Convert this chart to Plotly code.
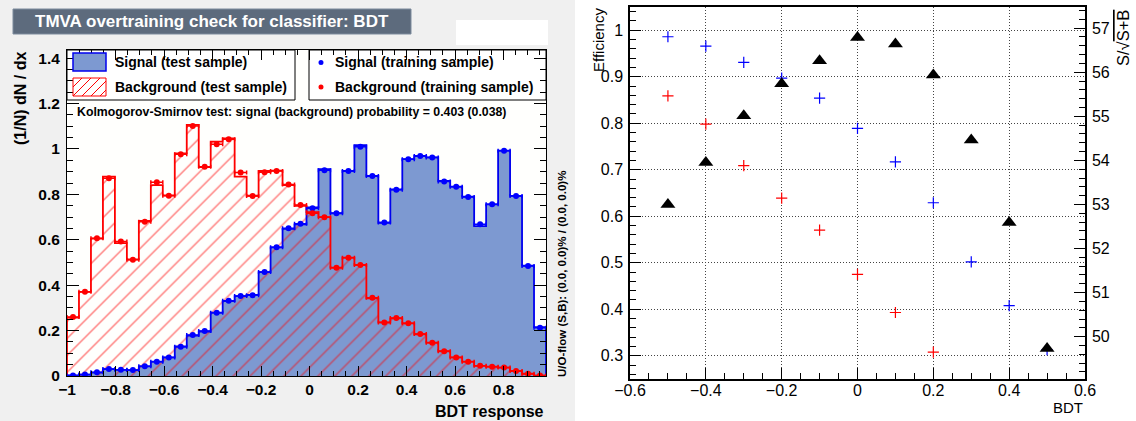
import numpy as np
import plotly.graph_objects as go

W, H = 1136, 421

# ---------------- data: TMVA overtraining check (40 bins) ----------------
bdt_min, bdt_max, n_bins = -1.0, 0.975, 40

signal_test = [0.003, 0.006, 0.015, 0.030, 0.027, 0.026, 0.042, 0.063, 0.082, 0.130,
               0.178, 0.196, 0.279, 0.330, 0.352, 0.357, 0.458, 0.567, 0.648, 0.668,
               0.743, 0.911, 0.717, 0.903, 1.017, 0.881, 0.675, 0.822, 0.955, 0.969,
               0.963, 0.859, 0.834, 0.790, 0.660, 0.756, 0.993, 0.793, 0.486, 0.215]
signal_train = [0.002, 0.007, 0.016, 0.031, 0.027, 0.026, 0.043, 0.063, 0.082, 0.129,
                0.181, 0.198, 0.279, 0.332, 0.352, 0.356, 0.458, 0.567, 0.651, 0.671,
                0.739, 0.906, 0.717, 0.903, 1.010, 0.881, 0.676, 0.820, 0.955, 0.969,
                0.962, 0.857, 0.834, 0.788, 0.668, 0.756, 0.992, 0.793, 0.485, 0.213]
background_test = [0.257, 0.371, 0.605, 0.878, 0.585, 0.514, 0.683, 0.841, 0.796, 0.981,
                   1.106, 0.920, 1.032, 1.047, 0.878, 0.794, 0.903, 0.905, 0.841, 0.750,
                   0.722, 0.700, 0.477, 0.521, 0.489, 0.342, 0.236, 0.254, 0.232, 0.184,
                   0.147, 0.109, 0.082, 0.063, 0.045, 0.041, 0.037, 0.022, 0.010, 0.002]
background_train = [0.260, 0.371, 0.607, 0.871, 0.592, 0.512, 0.679, 0.853, 0.794, 0.977,
                    1.101, 0.922, 1.021, 1.043, 0.896, 0.793, 0.897, 0.903, 0.844, 0.753,
                    0.717, 0.699, 0.477, 0.521, 0.489, 0.345, 0.236, 0.256, 0.232, 0.185,
                    0.147, 0.109, 0.082, 0.063, 0.045, 0.041, 0.037, 0.022, 0.010, 0.002]

# ---------------- data: cut efficiencies ----------------
cut_values = [-0.5, -0.4, -0.3, -0.2, -0.1, 0.0, 0.1, 0.2, 0.3, 0.4, 0.5]
signal_eff = [0.986, 0.966, 0.931, 0.897, 0.854, 0.789, 0.717, 0.629, 0.502, 0.408, 0.313]
background_eff = [0.859, 0.798, 0.709, 0.639, 0.570, 0.475, 0.393, 0.308, None, None, None]
significance = [53.00, 53.95, 55.01, 55.74, 56.26, 56.79, 56.64, 55.94, 54.46, 52.59, 49.73]

title_text = "TMVA overtraining check for classifier: BDT"
ks_text = "Kolmogorov-Smirnov test: signal (background) probability = 0.403 (0.038)"
uo_text = "U/O-flow (S,B): (0.0, 0.0)% / (0.0, 0.0)%"

# ---------------- helpers ----------------
def fx(x):
    return x / W

def fy(y):
    return 1 - y / H

FONT = "Liberation Sans"
C_SIG_FILL = "#7d99d1"
C_SIG_LINE = "#0000ee"
C_BKG = "#ff0000"

edges = np.linspace(bdt_min, bdt_max, n_bins + 1)
centers = 0.5 * (edges[:-1] + edges[1:])
binw = edges[1] - edges[0]

def step_xy(vals):
    xs = [edges[0]] + list(edges[:-1]) + [edges[-1], edges[-1]]
    ys = [0] + list(vals) + [vals[-1], 0]
    return xs, ys

fig = go.Figure()

fig.add_trace(go.Bar(x=centers, y=signal_test, width=binw, xaxis="x", yaxis="y",
                     marker=dict(color=C_SIG_FILL, line=dict(width=0)), showlegend=False))
fig.add_trace(go.Bar(x=centers, y=background_test, width=binw, xaxis="x", yaxis="y",
                     marker=dict(color="rgba(0,0,0,0)", line=dict(width=0),
                                 pattern=dict(shape="/", fgcolor=C_BKG, size=12,
                                              solidity=0.12, fillmode="overlay")),
                     showlegend=False))
sx, sy = step_xy(signal_test)
fig.add_trace(go.Scatter(x=sx, y=sy, mode="lines", line=dict(color=C_SIG_LINE, width=1.8, shape="hv"),
                         xaxis="x", yaxis="y", showlegend=False))
bx, by = step_xy(background_test)
fig.add_trace(go.Scatter(x=bx, y=by, mode="lines", line=dict(color=C_BKG, width=1.8, shape="hv"),
                         xaxis="x", yaxis="y", showlegend=False))
fig.add_trace(go.Scatter(x=centers, y=signal_train, mode="markers", xaxis="x", yaxis="y",
                         marker=dict(color="#0000ff", size=6),
                         error_x=dict(type="constant", value=binw / 2, width=2, thickness=1.5, color="#0000ff"),
                         showlegend=False))
fig.add_trace(go.Scatter(x=centers, y=background_train, mode="markers", xaxis="x", yaxis="y",
                         marker=dict(color=C_BKG, size=6),
                         error_x=dict(type="constant", value=binw / 2, width=2, thickness=1.5, color=C_BKG),
                         showlegend=False))

fig.add_trace(go.Scatter(x=cut_values, y=signal_eff, mode="markers", xaxis="x2", yaxis="y2",
                         marker=dict(symbol="cross-thin", size=8, line=dict(color="#0000ff", width=1.2)),
                         showlegend=False))
fig.add_trace(go.Scatter(x=cut_values, y=background_eff, mode="markers", xaxis="x2", yaxis="y2",
                         marker=dict(symbol="cross-thin", size=8, line=dict(color=C_BKG, width=1.2)),
                         showlegend=False))
fig.add_trace(go.Scatter(x=cut_values, y=significance, mode="markers", xaxis="x2", yaxis="y3",
                         marker=dict(symbol="triangle-up", size=13, color="black"),
                         showlegend=False))

left_tick_font = dict(family=FONT, size=15.5, color="black", weight="bold")
right_tick_font = dict(family=FONT, size=16, color="black")

common_left = dict(showline=True, linecolor="black", linewidth=1, mirror="allticks",
                   ticks="inside", tickcolor="black", tickwidth=1, showgrid=False,
                   zeroline=False, tickfont=left_tick_font, automargin=False)

grid_style = dict(showgrid=True, gridcolor="#444444", gridwidth=1, griddash="1px,2px")

fig.update_layout(
    width=W, height=H, margin=dict(l=0, r=0, t=0, b=0, pad=0, autoexpand=False),
    paper_bgcolor="white", plot_bgcolor="rgba(0,0,0,0)",
    barmode="overlay", bargap=0, showlegend=False,
    font=dict(family=FONT),
    xaxis=dict(domain=[fx(67), fx(546)], range=[bdt_min, bdt_max], anchor="y",
               tick0=-1, dtick=0.2, ticklen=10, ticklabelstandoff=-1,
               minor=dict(dtick=0.05, ticklen=5, ticks="inside", tickcolor="black", showgrid=False),
               **common_left),
    yaxis=dict(domain=[fy(376), fy(50)], range=[0, 1.436], anchor="x",
               tick0=0, dtick=0.2, ticklen=12, ticklabelstandoff=3,
               minor=dict(dtick=0.05, ticklen=6, ticks="inside", tickcolor="black", showgrid=False),
               **common_left),
    xaxis2=dict(domain=[fx(630), fx(1085)], range=[-0.6, 0.6], anchor="y2",
                tick0=-0.6, dtick=0.2, ticks="inside", ticklen=11, tickcolor="black",
                showline=True, linecolor="black", linewidth=1.5, mirror=True, zeroline=False,
                tickfont=right_tick_font, ticklabelstandoff=-4, automargin=False,
                minor=dict(dtick=0.05, ticklen=6, ticks="inside", tickcolor="black", showgrid=False),
                **grid_style),
    yaxis2=dict(domain=[fy(379), fy(7)], range=[0.25, 1.05], anchor="x2",
                tick0=0.3, dtick=0.1, ticks="inside", ticklen=11, tickcolor="black",
                showline=True, linecolor="black", linewidth=1.5, mirror=True, zeroline=False,
                tickfont=right_tick_font, ticklabelstandoff=2, automargin=False,
                minor=dict(dtick=0.02, tick0=0.3, ticklen=6, ticks="inside", tickcolor="black", showgrid=False),
                **grid_style),
    yaxis3=dict(overlaying="y2", side="right", anchor="x2", range=[49.04, 57.48],
                tick0=50, dtick=1, ticks="inside", ticklen=11, tickcolor="black",
                showline=True, linecolor="black", linewidth=1.5, showgrid=False, zeroline=False,
                tickfont=right_tick_font, ticklabelstandoff=2, automargin=False,
                minor=dict(dtick=0.2, ticklen=6, ticks="inside", tickcolor="black", showgrid=False)),
)

shapes = []
def rect(x0, y0, x1, y1, fill, line_color=None, line_width=0, layer="above"):
    shapes.append(dict(type="rect", xref="paper", yref="paper",
                       x0=fx(x0), x1=fx(x1), y0=fy(y1), y1=fy(y0),
                       fillcolor=fill, layer=layer,
                       line=dict(color=line_color or fill, width=line_width)))

rect(0, 0, 575, 421, "#f0f0f0", layer="below")
rect(67, 50, 546, 376, "#fffffd", layer="below")
rect(67, 50, 295, 100, "white", "black", 1, layer="below")
rect(309, 50, 546, 100, "white", "black", 1, layer="below")
rect(13, 9, 411, 34, "#5d6b7d", "#7d8b9d", 1)
rect(456, 20, 548, 45, "white")
rect(73, 53, 106, 71, C_SIG_FILL, C_SIG_LINE, 1.5)
rect(73, 78, 106, 96, "rgba(0,0,0,0)", C_BKG, 1)
sx0, sx1, sy0, sy1 = 73, 106, 78, 96
hgt = sy1 - sy0
for start in np.arange(sx0 - hgt, sx1, 9):
    xa, ya, xb, yb = start, sy1, start + hgt, sy0
    if xa < sx0:
        ya = sy1 - (sx0 - xa)
        xa = sx0
    if xb > sx1:
        yb = sy0 + (xb - sx1)
        xb = sx1
    if xb - xa < 1:
        continue
    shapes.append(dict(type="line", xref="paper", yref="paper", x0=fx(xa), y0=fy(ya), x1=fx(xb), y1=fy(yb),
                       line=dict(color=C_BKG, width=1)))
for yc, col in [(62.5, "#0000ff"), (87, C_BKG)]:
    shapes.append(dict(type="circle", xref="paper", yref="paper",
                       x0=fx(318.5), x1=fx(323.5), y0=fy(yc + 2.5), y1=fy(yc - 2.5),
                       fillcolor=col, line=dict(color=col, width=0)))
fig.update_layout(shapes=shapes)

ann = []
def text(x, y, s, size, bold=False, color="black", xanchor="left", yanchor="middle", angle=0):
    f = dict(family=FONT, size=size, color=color)
    if bold:
        f["weight"] = "bold"
    ann.append(dict(xref="paper", yref="paper", x=fx(x), y=fy(y), text=s, showarrow=False,
                    xanchor=xanchor, yanchor=yanchor, textangle=angle, font=f))

text(32.5, 21.5, title_text, 17, True, "white")
text(113, 62.5, "Signal (test sample)", 14, True)
text(113, 87, "Background (test sample)", 14, True)
text(333, 62.5, "Signal (training sample)", 14, True)
text(333, 87, "Background (training sample)", 14, True)
text(74.5, 112, ks_text, 12.3, True)
text(20, 99, "(1/N) dN / dx", 16, True, xanchor="center", angle=-90)
text(546, 411, "BDT response", 16, True, xanchor="right")
text(562, 274, uo_text, 11.5, True, xanchor="center", angle=-90)
text(599, 40, "Efficiency", 15, xanchor="center", angle=-90)
text(1085, 407, "BDT", 15, xanchor="right")
text(1123, 38, "S/√<span style='text-decoration:overline'>S+B</span>", 16.5, xanchor="center", angle=-90)
fig.update_layout(annotations=ann)

fig.write_html("out.html")
